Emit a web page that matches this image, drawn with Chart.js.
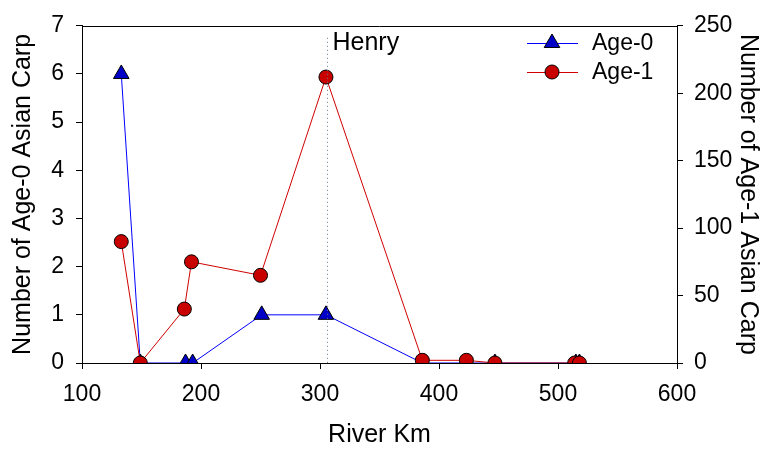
<!DOCTYPE html>
<html>
<head>
<meta charset="utf-8">
<script src="https://cdn.jsdelivr.net/npm/chart.js@4.4.1/dist/chart.umd.min.js"></script>
<style>
  html, body { margin: 0; padding: 0; background: #fff; }
  #wrap { width: 766px; height: 450px; }
</style>
</head>
<body>
<div id="wrap"><canvas id="carpChart"></canvas></div>
<script>
// river km of each sampling site and catch counts
var age0Km = [133, 149, 187, 193, 251, 305, 386, 422, 447, 515, 518];
var age0Count = [6, 0, 0, 0, 1, 1, 0, 0, 0, 0, 0];
var age1Km = [133, 149, 186, 192, 250, 305, 386, 423, 447, 514, 518];
var age1Count = [90, 0, 40, 75, 65, 212, 2, 2, 0, 0, 0];
var henryKm = 306;

var xTicks = [100, 200, 300, 400, 500, 600];
var leftTicks = [0, 1, 2, 3, 4, 5, 6, 7];
var rightTicks = [0, 50, 100, 150, 200, 250];

function toPoints(xs, ys) {
  return xs.map(function (x, i) { return {x: x, y: ys[i]}; });
}

var FONT = "'Liberation Sans', Arial, sans-serif";
var blueLine = '#0000ff', blueFill = '#0000c8';
var redLine = '#d00000', redFill = '#c80000';

// frame top line, Henry marker line + label, legend box
var extras = {
  id: 'extras',
  afterDraw: function (chart) {
    var ctx = chart.ctx, a = chart.chartArea;
    var xs = chart.scales.x;
    ctx.save();
    ctx.strokeStyle = '#000';
    ctx.lineWidth = 1;
    ctx.beginPath();
    ctx.moveTo(a.left, Math.round(a.top) + 0.5);
    ctx.lineTo(a.right, Math.round(a.top) + 0.5);
    ctx.stroke();

    var hx = Math.round(xs.getPixelForValue(henryKm)) + 0.5;
    ctx.strokeStyle = '#6a7a8a';
    ctx.setLineDash([1, 3]);
    ctx.beginPath();
    ctx.moveTo(hx, a.top + 12);
    ctx.lineTo(hx, a.bottom);
    ctx.stroke();
    ctx.setLineDash([]);

    ctx.fillStyle = '#000';
    ctx.font = '25px ' + FONT;
    ctx.textBaseline = 'middle';
    ctx.textAlign = 'left';
    ctx.fillText('Henry', hx + 5, 43);

    // legend
    var items = chart.data.datasets;
    var rows = [43, 72];
    items.forEach(function (ds, i) {
      var y = rows[i];
      ctx.strokeStyle = ds.borderColor;
      ctx.lineWidth = 1;
      ctx.beginPath();
      ctx.moveTo(527, y + 0.5);
      ctx.lineTo(578, y + 0.5);
      ctx.stroke();
      ctx.fillStyle = ds.pointBackgroundColor;
      ctx.strokeStyle = '#000';
      Chart.helpers.drawPoint(ctx, {pointStyle: ds.pointStyle, radius: ds.pointRadius, rotation: 0, borderWidth: 1}, 552, y);
      ctx.fillStyle = '#000';
      ctx.font = '23px ' + FONT;
      ctx.textBaseline = 'middle';
      ctx.fillText(ds.label, 592, y + 1);
    });
    ctx.restore();
  }
};

var tickFont = {family: FONT, size: 23};
var titleFont = {family: FONT, size: 25};

new Chart('carpChart', {
  type: 'scatter',
  data: {
    datasets: [{
      label: 'Age-0',
      data: toPoints(age0Km, age0Count),
      yAxisID: 'y',
      showLine: true,
      borderColor: blueLine,
      borderWidth: 1,
      pointStyle: 'triangle',
      pointRadius: 9,
      pointBackgroundColor: blueFill,
      pointBorderColor: '#000',
      pointBorderWidth: 1,
      order: 1
    }, {
      label: 'Age-1',
      data: toPoints(age1Km, age1Count),
      yAxisID: 'y1',
      showLine: true,
      borderColor: redLine,
      borderWidth: 1,
      pointStyle: 'circle',
      pointRadius: 7,
      pointBackgroundColor: redFill,
      pointBorderColor: '#000',
      pointBorderWidth: 1,
      order: 0
    }]
  },
  options: {
    responsive: true,
    maintainAspectRatio: false,
    animation: false,
    layout: {padding: {top: 15, left: 0, right: 0, bottom: 0}},
    plugins: {
      legend: {display: false},
      tooltip: {enabled: false}
    },
    scales: {
      x: {
        type: 'linear',
        min: 100, max: 600,
        afterBuildTicks: function (s) { s.ticks = xTicks.map(function (v) { return {value: v}; }); },
        afterFit: function (s) { s.height = 87; },
        grid: {drawOnChartArea: false, drawTicks: true, tickLength: 6, color: '#000'},
        border: {display: true, color: '#000'},
        ticks: {color: '#000', font: tickFont, padding: 12, maxRotation: 0},
        title: {display: true, text: 'River Km', color: '#000', font: titleFont, padding: {top: 0, bottom: 0}}
      },
      y: {
        type: 'linear',
        position: 'left',
        min: 0, max: 7,
        afterBuildTicks: function (s) { s.ticks = leftTicks.map(function (v) { return {value: v}; }); },
        afterFit: function (s) { s.width = 82; },
        grid: {drawOnChartArea: false, drawTicks: true, tickLength: 6, color: '#000'},
        border: {display: true, color: '#000'},
        ticks: {color: '#000', font: tickFont, padding: 12},
        title: {display: true, text: 'Number of Age-0 Asian Carp', color: '#000', font: titleFont, padding: {top: 8, bottom: 0}}
      },
      y1: {
        type: 'linear',
        position: 'right',
        min: 0, max: 250,
        afterBuildTicks: function (s) { s.ticks = rightTicks.map(function (v) { return {value: v}; }); },
        afterFit: function (s) { s.width = 89; },
        grid: {drawOnChartArea: false, drawTicks: true, tickLength: 6, color: '#000'},
        border: {display: true, color: '#000'},
        ticks: {color: '#000', font: tickFont, padding: 11},
        title: {display: true, text: 'Number of Age-1 Asian Carp', color: '#000', font: titleFont, padding: {top: 3, bottom: 0}}
      }
    }
  },
  plugins: [extras]
});
</script>
</body>
</html>
